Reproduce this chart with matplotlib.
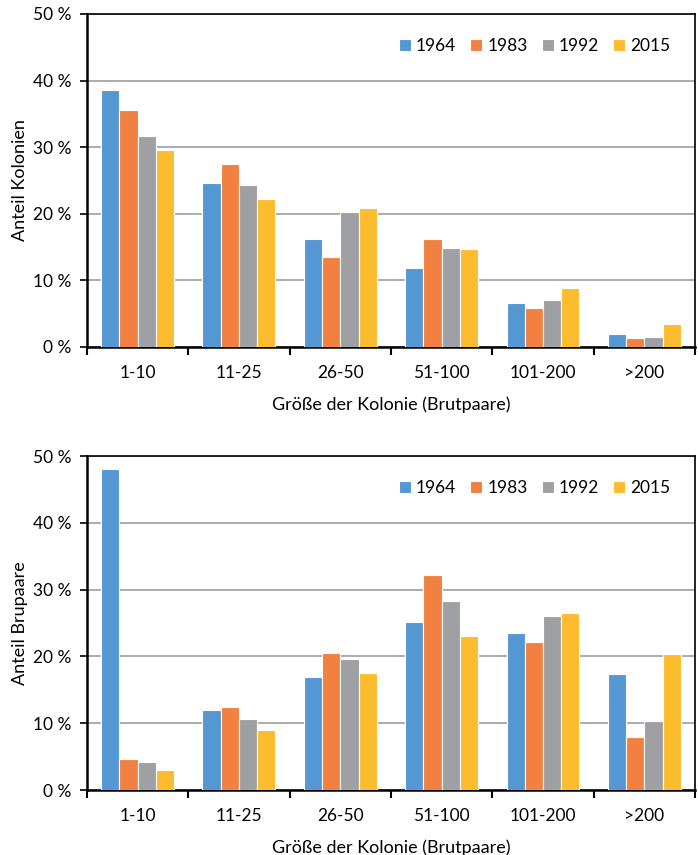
import matplotlib.pyplot as plt
import numpy as np

plt.rcParams['font.family'] = ['Lato', 'DejaVu Sans']

sizes = ['1-10', '11-25', '26-50', '51-100', '101-200', '>200']
years = ['1964', '1983', '1992', '2015']
colors = ['#5597d3', '#f28141', '#9ea0a4', '#fdbb2e']

# share of colonies per size class (%)
kolonien = {
    '1964': [38.6, 24.6, 16.2, 11.9, 6.6, 2.0],
    '1983': [35.6, 27.5, 13.5, 16.2, 5.9, 1.3],
    '1992': [31.7, 24.3, 20.2, 14.9, 7.1, 1.5],
    '2015': [29.6, 22.2, 20.8, 14.7, 8.9, 3.4],
}

# share of breeding pairs per size class (%)
brutpaare = {
    '1964': [48.0, 12.0, 16.9, 25.1, 23.5, 17.3],
    '1983': [4.6, 12.5, 20.5, 32.2, 22.2, 7.9],
    '1992': [4.2, 10.6, 19.6, 28.3, 26.0, 10.4],
    '2015': [3.0, 9.0, 17.5, 23.0, 26.5, 20.3],
}


def draw_panel(ax, data, ylabel):
    x = np.arange(len(sizes))
    slot = 0.18
    for i, year in enumerate(years):
        ax.bar(x + (i - 1.5) * slot, data[year], width=slot, color=colors[i],
               edgecolor='white', linewidth=0.8, label=year, zorder=3)

    ax.set_xlim(-0.5, len(sizes) - 0.5)
    ax.set_ylim(0, 50)
    ax.set_yticks(np.arange(0, 51, 10))
    ax.set_yticklabels(['%d %%' % v for v in range(0, 51, 10)])
    ax.yaxis.grid(True, color='#a6a6a6', linewidth=1.3, zorder=0)
    ax.tick_params(axis='y', direction='out', length=5, width=1.2,
                   labelsize=12.5, pad=6)

    ax.set_xticks(x)
    ax.set_xticklabels(sizes)
    ax.tick_params(axis='x', which='major', length=0, labelsize=12.5, pad=13)
    ax.set_xticks(np.arange(-0.5, len(sizes)), minor=True)
    ax.tick_params(axis='x', which='minor', direction='out', length=6, width=1.5)

    for side in ['left', 'bottom']:
        ax.spines[side].set_linewidth(1.8)
    for side in ['top', 'right']:
        ax.spines[side].set_linewidth(1.2)

    ax.set_ylabel(ylabel, fontsize=13, labelpad=4)
    ax.set_xlabel('Größe der Kolonie (Brutpaare)', fontsize=13, labelpad=11)
    ax.legend(loc='upper right', ncol=4, frameon=False, fontsize=12.5,
              handlelength=0.7, handleheight=0.7, handletextpad=0.3,
              columnspacing=0.8, borderaxespad=1.0)


fig = plt.figure(figsize=(6.98, 8.55), dpi=100)
ax1 = fig.add_axes([0.1246, 0.5942, 0.8711, 0.3895])
ax2 = fig.add_axes([0.1246, 0.0760, 0.8711, 0.3906])

draw_panel(ax1, kolonien, 'Anteil Kolonien')
draw_panel(ax2, brutpaare, 'Anteil Brupaare')

fig.savefig('out.png', dpi=100)
